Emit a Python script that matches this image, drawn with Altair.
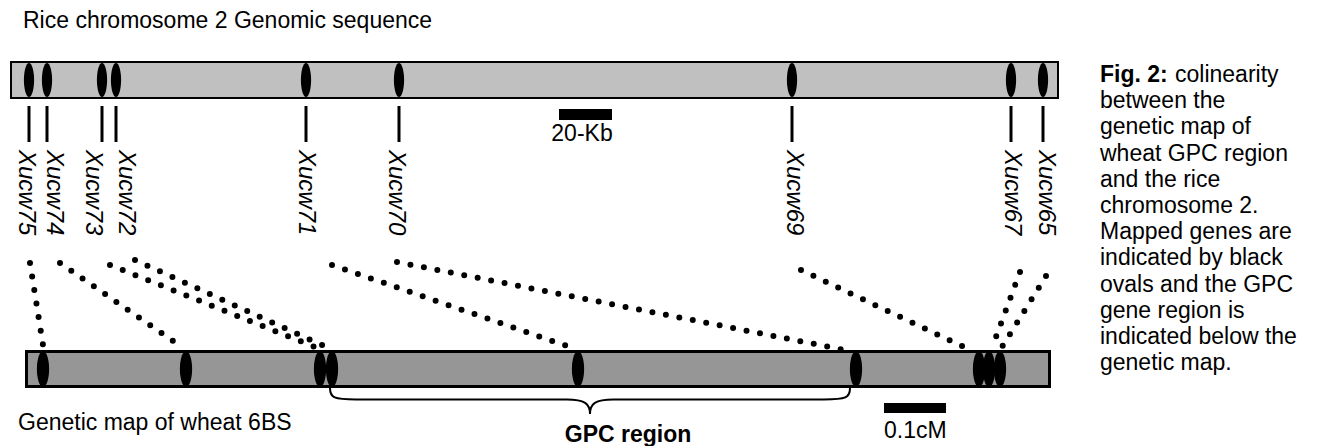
import altair as alt
import pandas as pd

# ---- data -------------------------------------------------------------
markers = ["Xucw75", "Xucw74", "Xucw73", "Xucw72", "Xucw71", "Xucw70", "Xucw69", "Xucw67", "Xucw65"]
rice_pos = [29, 47, 102, 116, 306, 399, 792, 1011, 1043]          # position on rice sequence bar
label_pos = [26, 54, 93, 126, 306, 396, 794, 1012, 1046]          # label anchor along the rice bar
wheat_pos = [43, 186, 320, 332, 578, 856, 979, 989, 1000]         # position on wheat genetic map
link_start_x = [30, 60, 110, 135, 332, 397, 801, 1020, 1046]
link_start_y = [263, 263, 265, 260, 265, 262, 270, 272, 276]
link_end_x = [43, 176, 315, 324, 567, 845, 966, 993, 1002]
link_end_y = [345, 343, 347, 346, 346, 350, 348, 345, 347]

caption_lines = ["between the", "genetic map of", "wheat GPC region", "and the rice",
                 "chromosome 2.", "Mapped genes are", "indicated by black",
                 "ovals and the GPC", "gene region is", "indicated below the", "genetic map."]

FONT = "Liberation Sans"

xs = alt.Scale(domain=[8, 1298], nice=False, zero=False)
ys = alt.Scale(domain=[8, 446], nice=False, zero=False, reverse=True)


def X(f):
    return alt.X(f, type="quantitative", scale=xs, axis=None)


def Y(f):
    return alt.Y(f, type="quantitative", scale=ys, axis=None)


def X2(f):
    return alt.X2(f)


def Y2(f):
    return alt.Y2(f)


# ---- tables -----------------------------------------------------------
top_bar = pd.DataFrame({"x": [11], "x2": [1058], "y": [62], "y2": [98]})
bot_bar = pd.DataFrame({"x": [26.5], "x2": [1049.5], "y": [351.5], "y2": [386.5]})
rice_df = pd.DataFrame({"marker": markers, "x": rice_pos, "lx": label_pos,
                        "yo": 80, "t1": 106, "t2": 142, "ly": 150})
wheat_df = pd.DataFrame({"marker": markers, "x": wheat_pos, "yo": 369})
link_df = pd.DataFrame({"marker": markers, "x": link_start_x, "y": link_start_y,
                        "x2": link_end_x, "y2": link_end_y})
scale_df = pd.DataFrame({"x": [559, 884], "x2": [612, 946], "y": [109, 403], "y2": [120, 413]})
brace_df = pd.DataFrame({"x": [590], "y": [401]})

texts = pd.DataFrame({
    "text": ["Rice chromosome 2 Genomic sequence", "Genetic map of wheat 6BS", "0.1cM", "colinearity"],
    "x": [23, 18, 884, 1175],
    "y": [28, 430, 438, 82],
})
center_texts = pd.DataFrame({"text": ["20-Kb"], "x": [582], "y": [141]})
bold_center = pd.DataFrame({"text": ["GPC region"], "x": [628], "y": [442]})
bold_left = pd.DataFrame({"text": ["Fig. 2:"], "x": [1100], "y": [82]})
caption_df = pd.DataFrame({"text": ["\n".join(caption_lines)], "x": [1100], "y": [108.2]})

OVAL_TOP = "M0,-1A0.3,1,0,1,1,0,1A0.3,1,0,1,1,0,-1Z"
OVAL_BOT = "M0,-1A0.34,1,0,1,1,0,1A0.34,1,0,1,1,0,-1Z"
BRACE = ("M-1,-0.05C-1,-0.012,-0.985,-0.006,-0.9,-0.006L-0.09,-0.006"
         "C-0.02,-0.006,0,0.01,0,0.05C0,0.01,0.02,-0.006,0.09,-0.006"
         "L0.9,-0.006C0.985,-0.006,1,-0.012,1,-0.05")

# ---- layers -----------------------------------------------------------
l_top_bar = alt.Chart(top_bar).mark_rect(fill="#c0c0c0", stroke="black", strokeWidth=2).encode(
    x=X("x"), x2=X2("x2"), y=Y("y"), y2=Y2("y2"))
l_bot_bar = alt.Chart(bot_bar).mark_rect(fill="#969696", stroke="black", strokeWidth=3).encode(
    x=X("x"), x2=X2("x2"), y=Y("y"), y2=Y2("y2"))

l_rice_ov = alt.Chart(rice_df).mark_point(shape=OVAL_TOP, filled=True, color="black",
                                          opacity=1, size=1156, strokeWidth=0).encode(
    x=X("x"), y=Y("yo"))
l_ticks = alt.Chart(rice_df).mark_rule(color="black", strokeWidth=3).encode(
    x=X("x"), y=Y("t1"), y2=Y2("t2"))
l_labels = alt.Chart(rice_df).mark_text(angle=90, align="left", baseline="middle",
                                        fontStyle="italic", fontSize=24, font=FONT,
                                        color="black").encode(
    x=X("lx"), y=Y("ly"), text="marker:N")

l_links = alt.Chart(link_df).mark_rule(color="black", strokeWidth=6, strokeCap="round",
                                       strokeDash=[0, 13.7]).encode(
    x=X("x"), y=Y("y"), x2=X2("x2"), y2=Y2("y2"))

l_wheat_ov = alt.Chart(wheat_df).mark_point(shape=OVAL_BOT, filled=True, color="black",
                                            opacity=1, size=1296, strokeWidth=0).encode(
    x=X("x"), y=Y("yo"))

l_brace = alt.Chart(brace_df).mark_point(shape=BRACE, filled=False, color="black",
                                         opacity=1, size=270400, strokeWidth=2).encode(
    x=X("x"), y=Y("y"))

l_scales = alt.Chart(scale_df).mark_rect(fill="black").encode(
    x=X("x"), x2=X2("x2"), y=Y("y"), y2=Y2("y2"))

l_texts = alt.Chart(texts).mark_text(align="left", baseline="alphabetic", fontSize=23,
                                     font=FONT, color="black").encode(
    x=X("x"), y=Y("y"), text="text:N")
l_ctext = alt.Chart(center_texts).mark_text(align="center", baseline="alphabetic", fontSize=23,
                                            font=FONT, color="black").encode(
    x=X("x"), y=Y("y"), text="text:N")
l_bold_c = alt.Chart(bold_center).mark_text(align="center", baseline="alphabetic", fontSize=23,
                                            font=FONT, fontWeight="bold", color="black").encode(
    x=X("x"), y=Y("y"), text="text:N")
l_bold_l = alt.Chart(bold_left).mark_text(align="left", baseline="alphabetic", fontSize=23,
                                          font=FONT, fontWeight="bold", color="black").encode(
    x=X("x"), y=Y("y"), text="text:N")
l_caption = alt.Chart(caption_df).mark_text(align="left", baseline="alphabetic", fontSize=23,
                                            font=FONT, color="black", lineBreak="\n",
                                            lineHeight=26.2).encode(
    x=X("x"), y=Y("y"), text="text:N")

chart = alt.layer(
    l_top_bar, l_bot_bar, l_rice_ov, l_ticks, l_labels, l_links, l_wheat_ov, l_brace,
    l_scales, l_texts, l_ctext, l_bold_c, l_bold_l, l_caption
).properties(
    width=1290, height=438, padding=0, autosize=alt.AutoSizeParams(type="none"),
    background="white"
).configure_view(stroke=None)

chart.save("out.html", embed_options={"renderer": "svg", "actions": False})
